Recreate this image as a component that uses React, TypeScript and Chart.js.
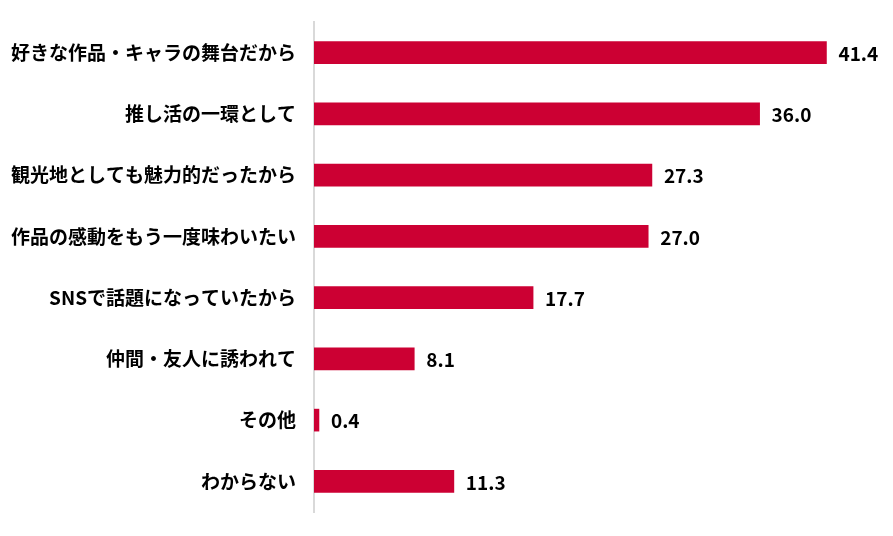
import React, { useEffect, useRef } from "react";
import { Chart, registerables } from "chart.js";

Chart.register(...registerables);

const categories = [
  "好きな作品・キャラの舞台だから",
  "推し活の一環として",
  "観光地としても魅力的だったから",
  "作品の感動をもう一度味わいたい",
  "SNSで話題になっていたから",
  "仲間・友人に誘われて",
  "その他",
  "わからない",
];
const values = [41.4, 36.0, 27.3, 27.0, 17.7, 8.1, 0.4, 11.3];

const FONT = "'Noto Sans CJK JP', 'Noto Sans', sans-serif";

const valueLabels = {
  id: "valueLabels",
  afterDatasetsDraw(chart: any) {
    const ctx = chart.ctx;
    const meta = chart.getDatasetMeta(0);
    ctx.save();
    ctx.font = `bold 19px ${FONT}`;
    ctx.fillStyle = "#000";
    ctx.textAlign = "left";
    ctx.textBaseline = "middle";
    meta.data.forEach((bar: any, i: number) => {
      ctx.fillText(values[i].toFixed(1), bar.x + 12, bar.y + 1);
    });
    ctx.restore();
  },
};

export default function App() {
  const ref = useRef<HTMLCanvasElement>(null);
  useEffect(() => {
    if (!ref.current) return;
    const chart = new Chart(ref.current, {
      type: "bar",
      data: {
        labels: categories,
        datasets: [
          {
            data: values,
            backgroundColor: "#CC0033",
            borderWidth: 0,
            barThickness: 22,
          },
        ],
      },
      options: {
        indexAxis: "y",
        responsive: false,
        animation: false,
        maintainAspectRatio: false,
        layout: { padding: { top: 22, bottom: 24, left: 0, right: 22 } },
        plugins: { legend: { display: false }, tooltip: { enabled: false } },
        scales: {
          x: { display: false, min: 0, max: 45 },
          y: {
            afterFit: (s: any) => {
              s.width = 314;
              s.paddingTop = 0;
              s.paddingBottom = 0;
            },
            grid: { display: false, drawTicks: false },
            border: { display: true, color: "#d9d9d9", width: 2 },
            ticks: {
              color: "#000",
              padding: 18,
              font: { family: FONT, size: 19, weight: "bold" },
            },
          },
        },
      },
      plugins: [valueLabels],
    });
    return () => chart.destroy();
  }, []);
  return (
    <div style={{ position: "fixed", left: 0, top: 0, width: 893, height: 536, background: "#fff" }}>
      <canvas ref={ref} width={893} height={536} />
    </div>
  );
}
